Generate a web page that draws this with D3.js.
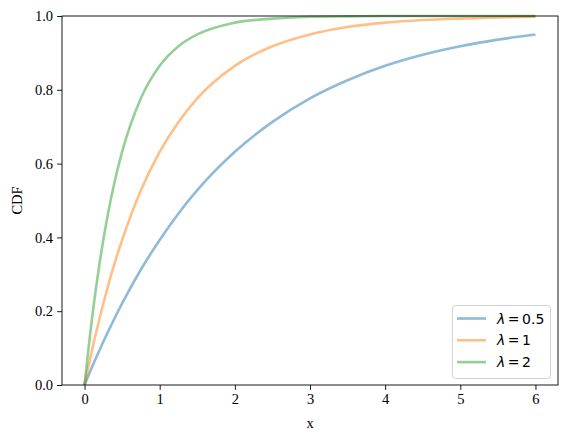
<!DOCTYPE html>
<html><head><meta charset="utf-8">
<script src="https://cdn.jsdelivr.net/npm/d3@7"></script>
<style>body{margin:0;background:#fff}</style>
</head><body>
<svg id="c" width="567" height="442"></svg>
<script>
const xs = [0, 0.1, 0.2, 0.3, 0.4, 0.5, 0.75, 1, 1.25, 1.5, 2, 2.5, 3, 3.5, 4, 4.5, 5, 5.5, 6];
const cdfHalf = [0, 0.049, 0.095, 0.139, 0.181, 0.221, 0.313, 0.393, 0.465, 0.528, 0.632, 0.713, 0.777, 0.826, 0.865, 0.895, 0.918, 0.936, 0.950];
const cdfOne  = [0, 0.095, 0.181, 0.259, 0.330, 0.393, 0.528, 0.632, 0.713, 0.777, 0.865, 0.918, 0.950, 0.970, 0.982, 0.989, 0.993, 0.996, 0.998];
const cdfTwo  = [0, 0.181, 0.330, 0.451, 0.551, 0.632, 0.777, 0.865, 0.918, 0.950, 0.982, 0.993, 0.998, 0.999, 1.0, 1.0, 1.0, 1.0, 1.0];
const lambdas = ["0.5", "1", "2"];
const colors = ["#1f77b4", "#ff7f0e", "#2ca02c"];
const xTicks = [0, 1, 2, 3, 4, 5, 6];
const yTicks = [0.0, 0.2, 0.4, 0.6, 0.8, 1.0];

const svg = d3.select("#c");
const L = 62, R = 558, T = 16, B = 385;
const x = d3.scaleLinear().domain([-0.3, 6.3]).range([L, R]);
const y = d3.scaleLinear().domain([0, 1]).range([B, T]);
const serif = "'Liberation Serif', 'DejaVu Serif', serif";

const series = [cdfHalf, cdfOne, cdfTwo];
const line = d3.line().x((d, i) => x(xs[i])).y(d => y(d)).curve(d3.curveMonotoneX);
const g = svg.append("g");
g.append("clipPath").attr("id","clip").append("rect").attr("x",L).attr("y",T-2).attr("width",R-L).attr("height",B-T+2);
series.forEach((s, k) => {
  g.append("path").attr("d", line(s)).attr("fill","none")
   .attr("stroke", colors[k]).attr("stroke-opacity",0.5).attr("stroke-width",2.6)
   .attr("clip-path","url(#clip)");
});

const xa = svg.append("g").attr("transform",`translate(0,${B})`)
  .call(d3.axisBottom(x).tickValues(xTicks).tickFormat(d3.format("d")).tickSizeOuter(0).tickSize(4.9).tickPadding(4));
const ya = svg.append("g").attr("transform",`translate(${L},0)`)
  .call(d3.axisLeft(y).tickValues(yTicks).tickFormat(d3.format(".1f")).tickSizeOuter(0).tickSize(4.9).tickPadding(4));
[xa, ya].forEach(a => {
  a.select(".domain").remove();
  a.selectAll("text").attr("font-family", serif).attr("font-size", 14.5).attr("fill","#000");
  a.selectAll("line").attr("stroke","#000").attr("stroke-width",0.9);
});
svg.append("rect").attr("x",L).attr("y",T).attr("width",R-L).attr("height",B-T)
  .attr("fill","none").attr("stroke","#000").attr("stroke-width",0.9);

svg.append("text").attr("x",(L+R)/2).attr("y",428).attr("text-anchor","middle")
  .attr("font-family",serif).attr("font-size",14.5).text("x");
svg.append("text").attr("transform",`translate(22,${(T+B)/2}) rotate(-90)`).attr("text-anchor","middle")
  .attr("font-family",serif).attr("font-size",14.5).text("CDF");

// legend
const lg = svg.append("g");
lg.append("rect").attr("x",452.5).attr("y",305.5).attr("width",98).attr("height",73).attr("rx",3)
  .attr("fill","#fff").attr("fill-opacity",0.8).attr("stroke","#ccc").attr("stroke-width",0.9);
lambdas.forEach((lam, k) => {
  const yy = 318.5 + k * 21.8;
  lg.append("line").attr("x1",457).attr("x2",486).attr("y1",yy).attr("y2",yy)
    .attr("stroke",colors[k]).attr("stroke-opacity",0.5).attr("stroke-width",2.6);
  const t = lg.append("text").attr("x",497).attr("y",yy+5).attr("font-family","'DejaVu Sans', sans-serif").attr("font-size",14);
  t.append("tspan").attr("font-style","italic").text("λ");
  t.append("tspan").attr("dx",2.5).text("=");
  t.append("tspan").attr("dx",2.5).text(lam);
});
</script>
</body></html>
